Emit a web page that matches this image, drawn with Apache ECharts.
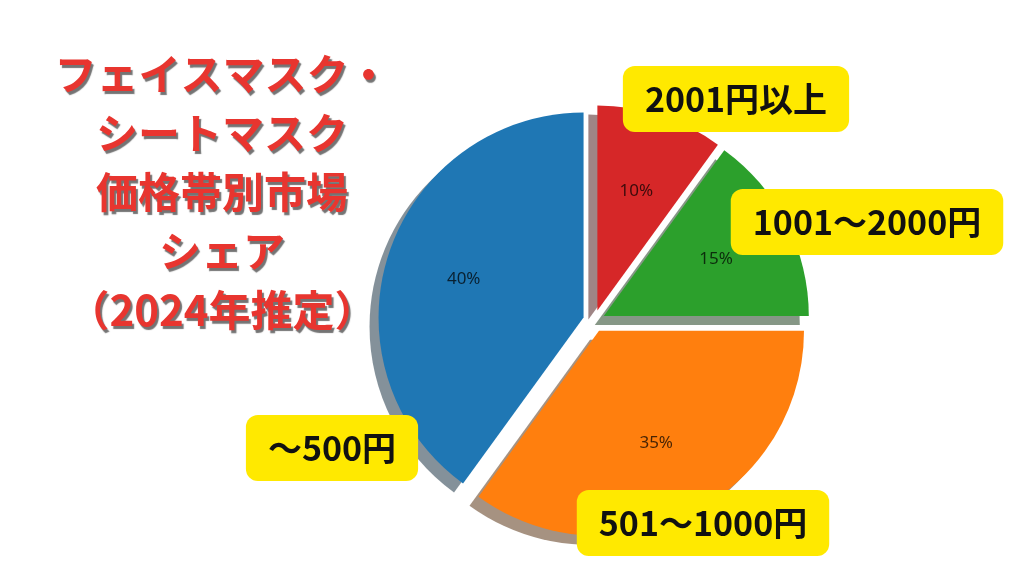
<!DOCTYPE html>
<html><head><meta charset="utf-8">
<script src="https://cdn.jsdelivr.net/npm/echarts@6/dist/echarts.min.js"></script>
<style>html,body{margin:0;padding:0;background:#fff}#c{width:1024px;height:576px}</style>
</head><body><div id="c"></div>
<script>
const titleLines = ['フェイスマスク・', 'シートマスク', '価格帯別市場', 'シェア', '（2024年推定）'];
const categories = ['〜500円', '501〜1000円', '1001〜2000円', '2001円以上'];
const shares = [40, 35, 15, 10];
const colors = ['#1f77b4', '#ff7f0e', '#2ca02c', '#d62728'];
// layout of the annotation boxes (pixel centers)
const boxCenters = [[332, 448], [703, 523], [867, 222], [736, 99]];

const CENTER = [594, 321], R = 205, EXPLODE = 11, SH = [-9, 9];
const cjk = '"Noto Sans CJK JP", "Noto Sans", sans-serif';

function shadowColor(hex) {
  const n = parseInt(hex.slice(1), 16);
  const r = (n >> 16) & 255, g = (n >> 8) & 255, b = n & 255;
  return `rgba(${Math.round(r*0.3)},${Math.round(g*0.3)},${Math.round(b*0.3)},0.5)`;
}
function mkData(styleFn) {
  return categories.map((c, i) => ({ name: c, value: shares[i], selected: true, itemStyle: styleFn(i) }));
}
const common = {
  type: 'pie', startAngle: 90, clockwise: false, selectedMode: 'multiple',
  selectedOffset: EXPLODE, avoidLabelOverlap: false, labelLine: { show: false },
  emphasis: { disabled: true }, animation: false
};

const chart = echarts.init(document.getElementById('c'), null, { renderer: 'canvas' });
chart.setOption({
  backgroundColor: '#ffffff',
  animation: false,
  series: [
    Object.assign({}, common, {
      silent: true, z: 1,
      center: [CENTER[0] + SH[0], CENTER[1] + SH[1]], radius: R,
      label: { show: false },
      data: mkData(i => ({ color: shadowColor(colors[i]) }))
    }),
    Object.assign({}, common, {
      z: 2, center: CENTER, radius: R,
      label: { show: false },
      data: mkData(i => ({ color: colors[i] }))
    }),
    Object.assign({}, common, {
      silent: true, z: 3, center: CENTER, radius: [R * 0.2, R],
      label: {
        show: true, position: 'inside', formatter: p => p.value + '%',
        color: 'rgba(0,0,0,0.72)', fontSize: 17, fontFamily: '"Noto Sans", sans-serif'
      },
      data: mkData(() => ({ color: 'rgba(0,0,0,0)' }))
    })
  ],
  graphic: [
    {
      type: 'text', x: 222, y: 45, z: 10,
      style: {
        text: titleLines.join('\n'), fill: '#e8352f', font: `bold 42px ${cjk}`,
        lineHeight: 59, align: 'center', verticalAlign: 'top',
        textShadowColor: 'rgba(70,70,70,0.75)', textShadowOffsetX: 2, textShadowOffsetY: 3, textShadowBlur: 1
      }
    }
  ].concat(categories.map((c, i) => ({
    type: 'text', x: boxCenters[i][0], y: boxCenters[i][1], z: 10,
    style: {
      text: c, fill: '#111', font: `bold 34px ${cjk}`, lineHeight: 40,
      align: 'center', verticalAlign: 'middle',
      backgroundColor: '#ffe900', padding: [13, 22], borderRadius: 12
    }
  })))
});
</script></body></html>
